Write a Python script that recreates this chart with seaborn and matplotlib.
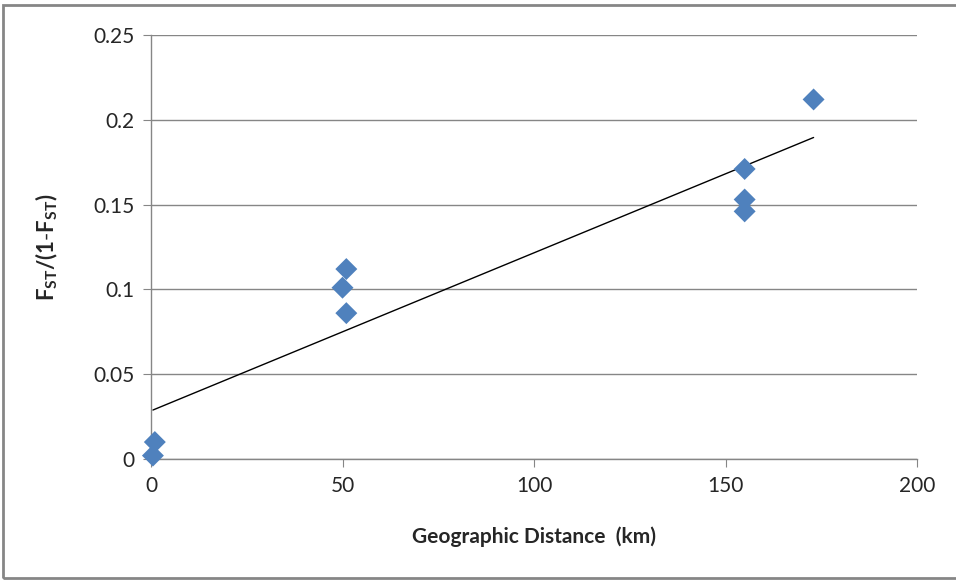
import numpy as np
import pandas as pd
import matplotlib
matplotlib.use('Agg')
import matplotlib.pyplot as plt
from matplotlib.patches import Rectangle
import seaborn as sns

# Pairwise distances (km) and Fst/(1-Fst)
distance_km = [1, 0.5, 51, 50, 51, 155, 155, 155, 173]
fst_ratio = [0.010, 0.002, 0.112, 0.101, 0.086, 0.171, 0.153, 0.146, 0.212]

x_ticks = [0, 50, 100, 150, 200]
y_ticks = [0, 0.05, 0.1, 0.15, 0.2, 0.25]

df = pd.DataFrame({'dist': distance_km, 'fst': fst_ratio})

sns.set_style('white')
plt.rcParams['font.family'] = ['Lato', 'DejaVu Sans']
plt.rcParams['mathtext.fontset'] = 'custom'
plt.rcParams['mathtext.rm'] = 'Lato'
plt.rcParams['mathtext.bf'] = 'Lato:bold'

fig = plt.figure(figsize=(9.56, 5.8), dpi=100)
ax = fig.add_axes([151 / 956, 1 - 459 / 580, (917 - 151) / 956, (459 - 35) / 580])

sns.regplot(data=df, x='dist', y='fst', scatter=False, ci=None, ax=ax,
            line_kws={'color': 'black', 'lw': 1})
sns.scatterplot(data=df, x='dist', y='fst', marker='D', s=125, color='#4F81BD',
                edgecolor='none', ax=ax, zorder=3, clip_on=False)

ax.set_xlim(0, 200)
ax.set_ylim(0, 0.25)
ax.set_xticks(x_ticks)
ax.set_yticks(y_ticks)
ax.set_xticklabels([str(t) for t in x_ticks])
ax.set_yticklabels(['0', '0.05', '0.1', '0.15', '0.2', '0.25'])
ax.tick_params(axis='both', labelsize=15, length=6, color='#868686', direction='out',
               bottom=True, left=True, pad=6)
ax.grid(axis='y', color='#868686', lw=1)
ax.set_axisbelow(True)
for side in ['top', 'right']:
    ax.spines[side].set_visible(False)
for side in ['left', 'bottom']:
    ax.spines[side].set_color('#868686')
    ax.spines[side].set_linewidth(1)

ax.set_xlabel('Geographic Distance  (km)', fontsize=15, fontweight='bold', labelpad=22)
ax.set_ylabel(r'$\mathbf{F_{ST}/(1\text{-}F_{ST})}$', fontsize=16, labelpad=24)

# chart area border
fig.patches.append(Rectangle((3 / 956, 2 / 580), 960 / 956, 573 / 580, transform=fig.transFigure,
                             fill=False, edgecolor='#868686', lw=2))

fig.savefig('out.png', dpi=100)
